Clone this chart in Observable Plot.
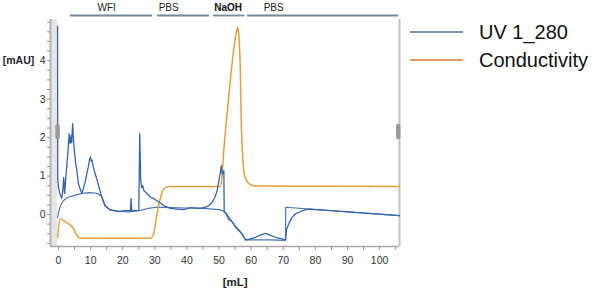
<!DOCTYPE html>
<html>
<head>
<meta charset="utf-8">
<script src="https://cdn.jsdelivr.net/npm/d3@7"></script>
<script src="https://cdn.jsdelivr.net/npm/@observablehq/plot@0.6"></script>
<style>
  body { margin: 0; background: #fff; font-family: "Liberation Sans", Arial, sans-serif; }
  #wrap { position: relative; width: 598px; height: 293px; overflow: hidden; }
  #legend { position: absolute; left: 0; top: 0; }
</style>
</head>
<body>
<div id="wrap"></div>
<script>
// ---- data ----
const uvX = [-0.3, -0.25, 0.0, 0.4, 1.0, 1.3, 1.6, 1.9, 2.2, 2.6, 3.0, 3.3, 3.6, 3.9, 4.1, 4.4, 4.7, 5.0, 5.3, 5.7, 6.2, 6.8, 7.3, 7.8, 8.3, 8.8, 9.3, 9.6, 9.9, 10.2, 10.4, 10.8, 11.4, 12.0, 12.5, 13.3, 14.5, 16.1, 18.7, 20.5, 22.4, 22.6, 22.8, 25.0, 25.3, 25.6, 25.9, 26.2, 26.6, 27.2, 27.8, 28.7, 29.5, 30.7, 31.7, 32.8, 34.9, 37, 39, 41, 43, 44.5, 45.8, 46.9, 47.9, 48.7, 49.4, 50.0, 50.4, 50.7, 51.0, 51.3, 51.5, 51.6, 52.0, 52.5, 53.0, 53.6, 54.2, 55.1, 55.8, 56.7, 57.5, 58.3, 59.5, 61.4, 63, 64.5, 66, 67.6, 69.5, 70.7, 71.0, 71.7, 72.7, 73.8, 75.9, 78, 90, 106.2];
const uvY = [4.9, 0.9, 0.7, 0.55, 0.42, 0.6, 0.96, 0.55, 0.9, 1.3, 1.7, 2.1, 1.85, 2.05, 1.87, 2.36, 1.9, 1.6, 1.35, 1.15, 0.8, 0.65, 0.55, 0.7, 0.85, 1.06, 1.25, 1.4, 1.5, 1.38, 1.42, 1.25, 1.06, 0.9, 0.75, 0.5, 0.23, 0.12, 0.08, 0.1, 0.1, 0.42, 0.1, 0.11, 2.1, 0.9, 0.7, 0.75, 0.62, 0.58, 0.52, 0.45, 0.42, 0.36, 0.3, 0.23, 0.16, 0.14, 0.13, 0.18, 0.17, 0.17, 0.19, 0.24, 0.32, 0.45, 0.62, 0.9, 1.1, 1.27, 1.06, 1.1, 1.14, 0.06, 0.05, -0.03, -0.12, -0.16, -0.2, -0.33, -0.38, -0.46, -0.55, -0.66, -0.64, -0.59, -0.53, -0.49, -0.54, -0.59, -0.63, -0.66, -0.4, -0.24, -0.08, 0.02, 0.1, 0.14, 0.07, -0.03];

const uvBaseX = [-0.3, 0.0, 0.5, 1.0, 2.0, 3.1, 5.0, 7.3, 9.5, 11.4, 12.5, 13.3, 14.5, 16.1, 18.7, 22, 25, 28, 30.5, 35, 40, 45, 50, 51.5, 52.5, 53.6, 55.1, 56.7, 58.3, 62, 66, 70.7, 70.75, 106.2];
const uvBaseY = [-0.08, 0.05, 0.2, 0.3, 0.4, 0.45, 0.5, 0.55, 0.57, 0.56, 0.53, 0.48, 0.23, 0.12, 0.08, 0.07, 0.1, 0.16, 0.19, 0.18, 0.17, 0.16, 0.13, 0.09, 0.0, -0.14, -0.3, -0.45, -0.66, -0.66, -0.66, -0.67, 0.19, -0.03];

const condX = [-0.3, 0.5, 1.6, 3.1, 4.4, 5.2, 6.2, 7.5, 28.6, 29.6, 30.6, 31.4, 31.8, 32.8, 34.4, 50.3, 50.8, 51.5, 52.3, 53.4, 54.4, 55.3, 55.8, 56.2, 56.6, 56.9, 57.3, 57.7, 58.2, 58.8, 60, 62, 106.2];
const condY = [-0.59, -0.11, -0.16, -0.24, -0.33, -0.46, -0.59, -0.615, -0.615, -0.5, -0.03, 0.32, 0.45, 0.67, 0.73, 0.73, 0.9, 1.7, 2.44, 3.4, 4.18, 4.7, 4.86, 4.6, 3.8, 2.44, 1.6, 1.15, 0.95, 0.85, 0.77, 0.74, 0.73];

const phaseNames = ["WFI", "PBS", "NaOH", "PBS"];
const phaseStart = [3.7, 30.8, 48.3, 58.9];
const phaseEnd = [29.3, 47.0, 58.0, 105.9];
const phaseLabelX = [15, 34.3, 52.8, 67];
const phaseBold = [false, false, true, false];

const xTickLabels = [0, 10, 20, 30, 40, 50, 60, 70, 80, 90, 100];
const xMinorTicks = d3.range(0, 106, 5);
const yTickLabels = [0, 1, 2, 3, 4];
const yMinorTicks = d3.range(-0.75, 5.01, 0.25);

const seriesNames = ["UV 1_280", "Conductivity"];
const seriesColors = ["#3565ad", "#e3a03e"];
const legendColors = ["#5b6f95", "#d9772f"];

// ---- build ----
const xDomain = [-2.5, 106.2];
const yDomain = [-0.83, 5.07];
const uv = uvX.map((x, i) => ({x, y: uvY[i]}));
const uvBase = uvBaseX.map((x, i) => ({x, y: uvBaseY[i]}));
const cond = condX.map((x, i) => ({x, y: condY[i]}));
const phases = phaseNames.map((name, i) => ({name, x1: phaseStart[i], x2: phaseEnd[i], lx: phaseLabelX[i], bold: phaseBold[i]}));

const chart = Plot.plot({
  width: 598,
  height: 293,
  marginLeft: 50,
  marginRight: 199,
  marginTop: 19,
  marginBottom: 47,
  x: {domain: xDomain, axis: null},
  y: {domain: yDomain, axis: null},
  style: {fontFamily: "Liberation Sans, Arial, sans-serif", fontSize: "10.5px", color: "#333", background: "transparent"},
  marks: [
    Plot.rect([{x1: xDomain[0], x2: -0.3}], {x1: "x1", x2: "x2", fill: "#e6e6e6"}),
    Plot.ruleX([xDomain[0]], {stroke: "#b5b5b5", strokeWidth: 2}),
    Plot.ruleX([xDomain[1]], {stroke: "#c2c2c2", strokeWidth: 2}),
    Plot.ruleY([yDomain[0]], {stroke: "#a8a8a8", strokeWidth: 1.5}),
    Plot.axisX(xMinorTicks, {tickSize: 4, tickFormat: () => "", stroke: "#999", label: null}),
    Plot.axisX(xTickLabels, {tickSize: 0, tickPadding: 10, fill: "#333", fontSize: 10.5, label: null}),
    Plot.axisY(yMinorTicks, {tickSize: 3, tickFormat: () => "", stroke: "#999", label: null}),
    Plot.axisY(yTickLabels, {tickSize: 0, tickPadding: 5, fill: "#333", fontSize: 10.5, label: null}),
    Plot.line(uvBase, {x: "x", y: "y", stroke: seriesColors[0], strokeWidth: 1.2, strokeOpacity: 0.9}),
    Plot.line(cond, {x: "x", y: "y", stroke: seriesColors[1], strokeWidth: 1.5, curve: "monotone-x"}),
    Plot.line(uv, {x: "x", y: "y", stroke: seriesColors[0], strokeWidth: 1.3}),
    Plot.ruleX([-0.3, 105.8], {x: d => d, y1: 2.0, y2: 2.29, stroke: "#9a9a9a", strokeWidth: 4.5, strokeLinecap: "round"}),
    Plot.ruleY(phases, {y: () => yDomain[1], x1: "x1", x2: "x2", dy: -4, stroke: "#74889a", strokeWidth: 1.8}),
    Plot.text(phases.filter(d => !d.bold), {x: "lx", y: () => yDomain[1], text: "name", dy: -12, fontSize: 10, fill: "#222"}),
    Plot.text(phases.filter(d => d.bold), {x: "lx", y: () => yDomain[1], text: "name", dy: -12, fontSize: 10, fill: "#111", fontWeight: "bold"}),
    Plot.text(["[mAU]"], {x: xDomain[0], y: 4, text: d => d, dx: -32, fontWeight: "bold", fontSize: 10.5, fill: "#222"}),
    Plot.text(["[mL]"], {x: 55, y: yDomain[0], text: d => d, dy: 36, fontWeight: "bold", fontSize: 11.5, fill: "#222"})
  ]
});
document.getElementById("wrap").appendChild(chart);

// legend
const ns = "http://www.w3.org/2000/svg";
const leg = document.createElementNS(ns, "svg");
leg.setAttribute("id", "legend");
leg.setAttribute("width", 598);
leg.setAttribute("height", 293);
seriesNames.forEach((name, i) => {
  const y = 32 + i * 28;
  const ln = document.createElementNS(ns, "line");
  ln.setAttribute("x1", 410); ln.setAttribute("x2", 463);
  ln.setAttribute("y1", y); ln.setAttribute("y2", y);
  ln.setAttribute("stroke", legendColors[i]); ln.setAttribute("stroke-width", 1.6);
  leg.appendChild(ln);
  const t = document.createElementNS(ns, "text");
  t.setAttribute("x", 479); t.setAttribute("y", y + 6.5);
  t.setAttribute("font-family", "Liberation Sans, Arial, sans-serif");
  t.setAttribute("font-size", "20px");
  t.setAttribute("fill", "#111");
  t.textContent = name;
  leg.appendChild(t);
});
document.getElementById("wrap").appendChild(leg);
</script>
</body>
</html>
